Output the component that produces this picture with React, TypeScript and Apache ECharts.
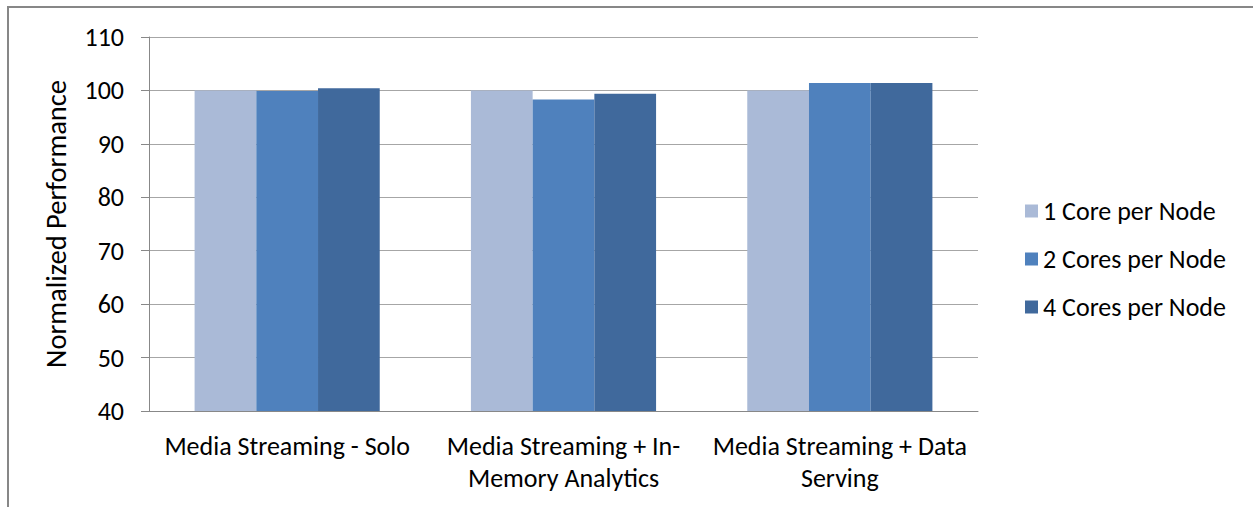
import React, { useEffect, useRef } from "react";
import * as echarts from "echarts";

const categories = [
  "Media Streaming - Solo",
  "Media Streaming + In-\nMemory Analytics",
  "Media Streaming + Data\nServing",
];
const seriesNames = ["1 Core per Node", "2 Cores per Node", "4 Cores per Node"];
const oneCore = [100, 100, 100];
const twoCores = [99.9, 98.3, 101.4];
const fourCores = [100.4, 99.4, 101.4];
const colors = ["#AABAD7", "#4F81BD", "#40699C"];

const FONT = "Carlito, Lato, 'Liberation Sans', sans-serif";
const SIZE = 26;

export default function App() {
  const ref = useRef<HTMLDivElement>(null);

  useEffect(() => {
    if (!ref.current) return;
    const chart = echarts.init(ref.current, undefined, { renderer: "svg" });
    const values = [oneCore, twoCores, fourCores];
    chart.setOption({
      animation: false,
      textStyle: { fontFamily: FONT, color: "#000" },
      graphic: [
        {
          type: "rect",
          shape: { x: 8, y: 7, width: 1300, height: 600 },
          style: { fill: "none", stroke: "#878787", lineWidth: 2 },
          silent: true,
        },
      ],
      grid: { left: 149, top: 37, right: 275, bottom: 96 },
      legend: {
        orient: "vertical",
        left: 1020,
        top: 193,
        itemWidth: 13,
        itemHeight: 13,
        itemGap: 22,
        icon: "rect",
        data: seriesNames,
        textStyle: { fontFamily: FONT, fontSize: SIZE, color: "#000", lineHeight: 26 },
      },
      xAxis: {
        type: "category",
        data: categories,
        axisLine: { lineStyle: { color: "#888", width: 1 } },
        axisTick: { show: false },
        axisLabel: {
          interval: 0,
          margin: 19,
          fontFamily: FONT,
          fontSize: SIZE,
          lineHeight: 32,
          color: "#000",
        },
      },
      yAxis: {
        type: "value",
        min: 40,
        max: 110,
        interval: 10,
        name: "Normalized Performance",
        nameLocation: "middle",
        nameGap: 78,
        nameTextStyle: { fontFamily: FONT, fontSize: 28.5, color: "#000" },
        axisLine: { show: true, lineStyle: { color: "#888", width: 1 } },
        axisTick: { show: true, length: 8, lineStyle: { color: "#888" } },
        axisLabel: { margin: 25, fontFamily: FONT, fontSize: SIZE, color: "#000" },
        splitLine: { lineStyle: { color: "#A6A6A6", width: 1 } },
      },
      series: seriesNames.map((name, i) => ({
        name,
        type: "bar",
        data: values[i],
        barGap: "0%",
        barCategoryGap: "33%",
        itemStyle: { color: colors[i] },
      })),
    });
    return () => chart.dispose();
  }, []);

  return (
    <div
      ref={ref}
      style={{ position: "absolute", left: 0, top: 0, width: 1253, height: 507 }}
    />
  );
}
